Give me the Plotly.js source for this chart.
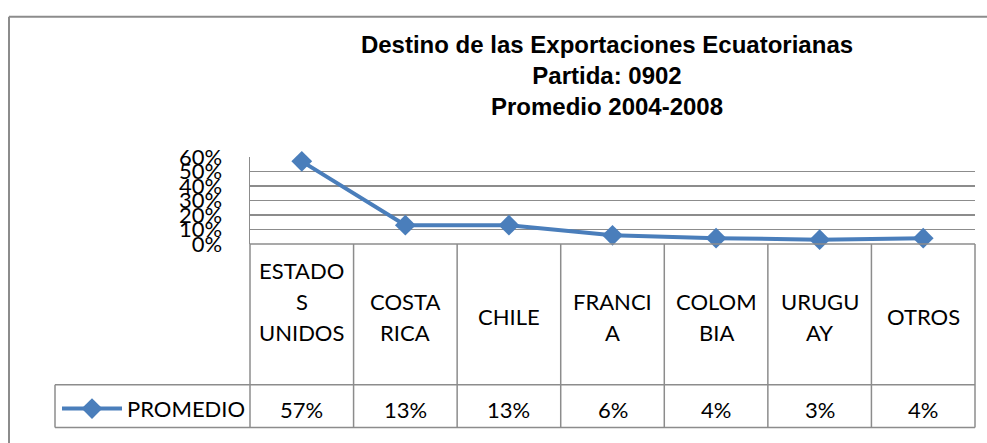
<!DOCTYPE html>
<html>
<head>
<meta charset="utf-8">
<script src="https://cdn.plot.ly/plotly-3.0.1.min.js"></script>
<style>
  html, body { margin: 0; padding: 0; background: #ffffff; }
  #chart { width: 987px; height: 443px; }
</style>
</head>
<body>
<div id="chart"></div>
<script>
// ---- data ----
var categories = ['ESTADOS UNIDOS', 'COSTA RICA', 'CHILE', 'FRANCIA', 'COLOMBIA', 'URUGUAY', 'OTROS'];
var categoryLines = [['ESTADO', 'S', 'UNIDOS'], ['COSTA', 'RICA'], ['CHILE'], ['FRANCI', 'A'], ['COLOM', 'BIA'], ['URUGU', 'AY'], ['OTROS']];
var promedio = [0.57, 0.13, 0.13, 0.06, 0.04, 0.03, 0.04];
var seriesName = 'PROMEDIO';
var yTicks = [0, 0.1, 0.2, 0.3, 0.4, 0.5, 0.6];
var titleLines = ['Destino de las Exportaciones Ecuatorianas', 'Partida: 0902', 'Promedio 2004-2008'];

// ---- layout helpers (pixel -> paper) ----
var W = 987, H = 443;
var M = { l: 250, r: 12, t: 157, b: 196 };
var plotW = W - M.l - M.r, plotH = H - M.t - M.b;
function px2x(px) { return (px - M.l) / plotW; }
function px2y(py) { return (H - M.b - py) / plotH; }

var gray = '#8c8c8c';
var textFont = 'Lato, "Open Sans", sans-serif';
var n = categories.length;

var rowTop = 247, rowMid = 392.7, rowBot = 436.7, legendLeft = 55;

var shapes = [];
function hline(x0, x1, py) {
  shapes.push({ type: 'line', xref: 'paper', yref: 'paper', x0: x0, x1: x1, y0: px2y(py), y1: px2y(py),
    line: { color: gray, width: 1.5 } });
}
function vline(x, py0, py1) {
  shapes.push({ type: 'line', xref: 'paper', yref: 'paper', x0: x, x1: x, y0: px2y(py0), y1: px2y(py1),
    line: { color: gray, width: 1.5 } });
}
// table lines
hline(0, 1, rowTop);
hline(px2x(legendLeft), 1, rowMid);
hline(px2x(legendLeft), 1, rowBot);
for (var k = 0; k <= n; k++) vline(k / n, rowTop, rowBot);
vline(px2x(legendLeft), rowMid, rowBot);
// outer chart frame (left + top)
shapes.push({ type: 'line', xref: 'paper', yref: 'paper', x0: px2x(9), x1: px2x(9), y0: px2y(12), y1: px2y(460),
  line: { color: gray, width: 2 } });
shapes.push({ type: 'line', xref: 'paper', yref: 'paper', x0: px2x(9), x1: px2x(1000), y0: px2y(12), y1: px2y(12),
  line: { color: gray, width: 2 } });

var annotations = [];
var lineGap = 32.5;
for (var i = 0; i < n; i++) {
  var L = categoryLines[i];
  var center = (L.length >= 3 ? 304 : (rowTop + rowMid) / 2) + 2.5;
  for (var j = 0; j < L.length; j++) {
    annotations.push({
      xref: 'x', yref: 'paper', x: i, y: px2y(center + (j - (L.length - 1) / 2) * lineGap),
      text: L[j], showarrow: false, xanchor: 'center', yanchor: 'middle',
      font: { family: textFont, size: 22, color: '#000000' }
    });
  }
  annotations.push({
    xref: 'x', yref: 'paper', x: i, y: px2y((rowMid + rowBot) / 2 + 4),
    text: Math.round(promedio[i] * 100) + '%', showarrow: false, xanchor: 'center', yanchor: 'middle',
    font: { family: textFont, size: 22, color: '#000000' }
  });
}

var trace = {
  type: 'scatter', mode: 'lines+markers', name: seriesName,
  x: categories, y: promedio,
  line: { color: '#4A7EBB', width: 4 },
  marker: { symbol: 'diamond', size: 16, color: '#4A7EBB' },
  cliponaxis: false,
  hoverinfo: 'skip'
};

var layout = {
  width: W, height: H,
  margin: M,
  paper_bgcolor: '#ffffff', plot_bgcolor: '#ffffff',
  title: {
    text: titleLines.join('<br>'),
    font: { family: '"Liberation Sans", Arial, sans-serif', size: 24, color: '#000000', weight: 'bold' },
    xref: 'container', x: 607 / W, xanchor: 'center',
    yref: 'container', y: 1 - 53 / H, yanchor: 'top'
  },
  xaxis: {
    type: 'category', categoryarray: categories, range: [-0.5, n - 0.5],
    showticklabels: false, showgrid: false, zeroline: false, showline: false, fixedrange: true
  },
  yaxis: {
    range: [0, 0.6], tickvals: yTicks, tickformat: '.0%',
    showgrid: true, gridcolor: gray, gridwidth: 1.4,
    zeroline: false, showline: true, linecolor: gray, linewidth: 1.5,
    ticks: '', ticklabelstandoff: 22,
    tickfont: { family: textFont, size: 22, color: '#000000' }, fixedrange: true
  },
  showlegend: true,
  legend: {
    x: px2x(legendLeft + 2), y: px2y(rowMid + 3), xanchor: 'left', yanchor: 'top',
    bgcolor: 'rgba(0,0,0,0)', borderwidth: 0, itemwidth: 60,
    font: { family: textFont, size: 22, color: '#000000' }
  },
  shapes: shapes,
  annotations: annotations
};

Plotly.newPlot('chart', [trace], layout, { displayModeBar: false, staticPlot: true });
</script>
</body>
</html>
